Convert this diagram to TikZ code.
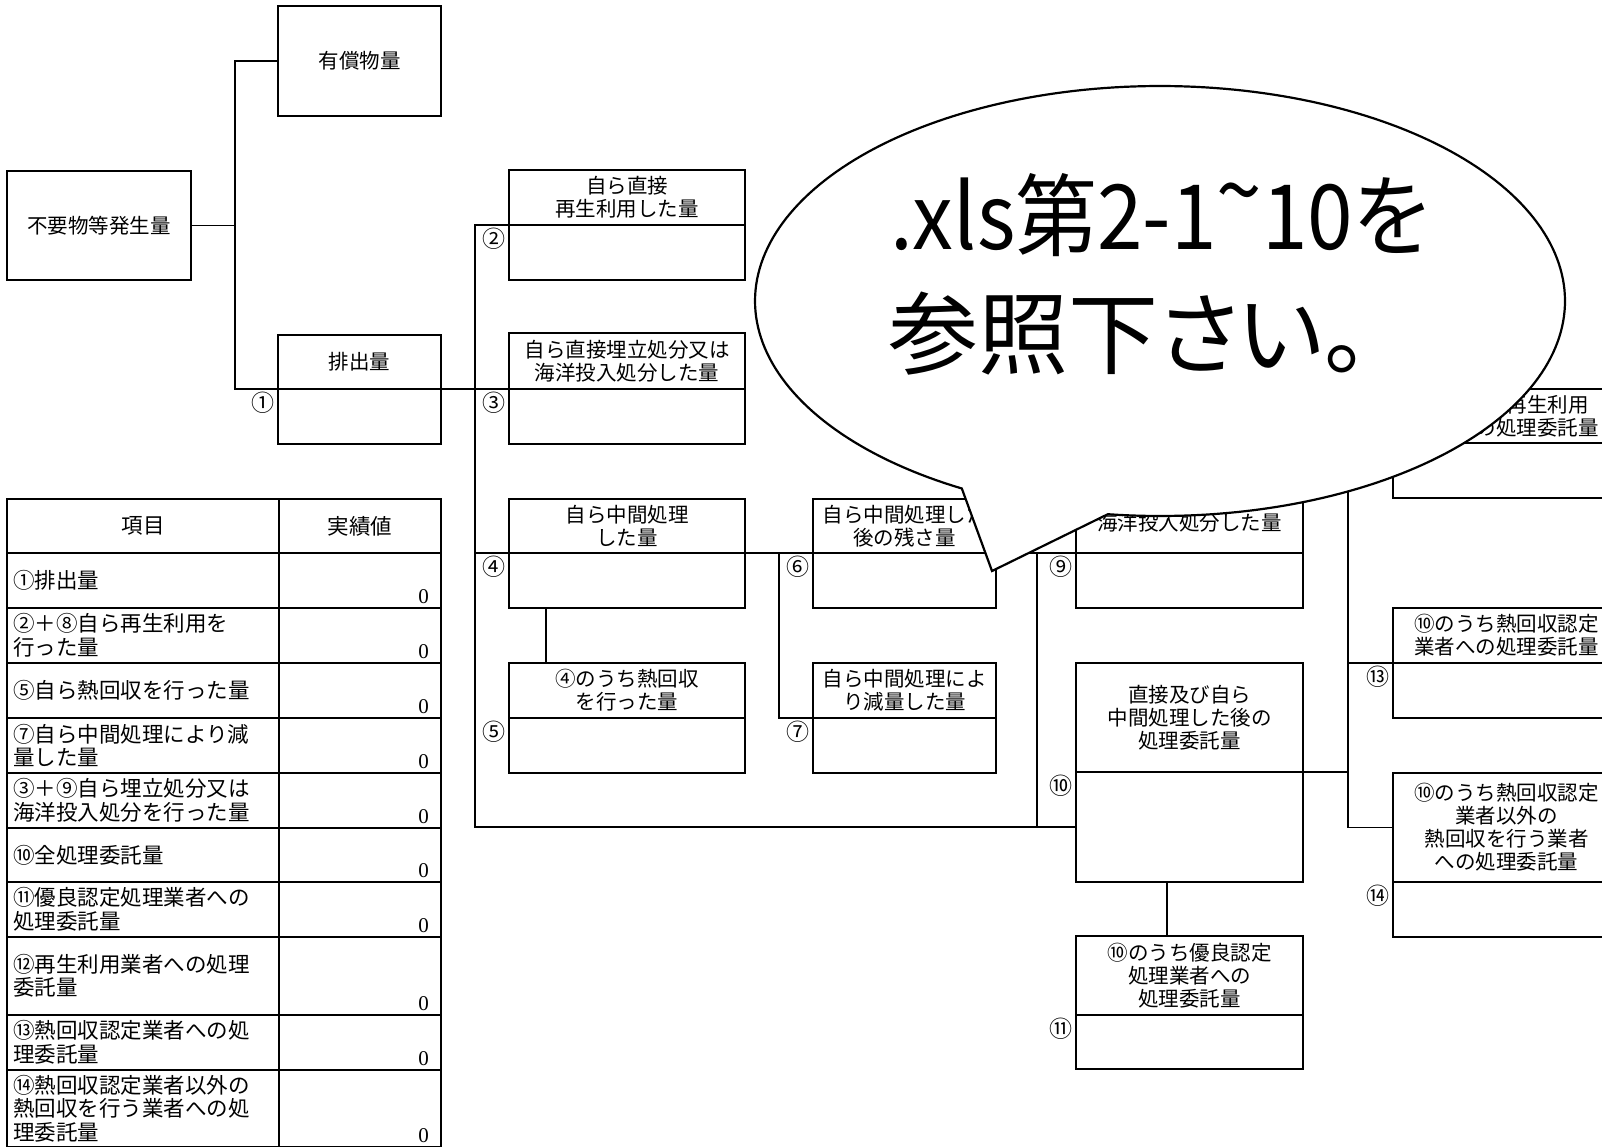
\documentclass[tikz,border=0pt]{standalone}
\usepackage{fontspec}
\setmainfont{Noto Sans CJK JP}
\newfontfamily\numfont{Liberation Serif}
\newfontfamily\bubblefont[RawFeature=+palt]{Noto Sans CJK JP}
\newcommand\flowbox[7]{%
  \node[cell, minimum width=#4pt, minimum height=#5pt] (h#1) at (#2,#3) {#7};
  \node[cell, minimum width=#4pt, minimum height=#6pt] (v#1) at (h#1.south west) {};
}
\newcommand\trow[4]{%
  \node[tleft, minimum height=#3pt] (k#1) at (7,#2) {#4};
  \node[tright, minimum height=#3pt] (r#1) at (279,#2) {};
  \node[zero] (z#1) at ([xshift=-12pt,yshift=4.5pt]r#1.south east) {0};
}
\newcommand\circlbl[2]{%
  \node[lbl] (l#1) at ([xshift=-15pt,yshift=-14pt]v#1.north west) {#2};
}
\tikzset{
  cell/.style={draw, line width=1.4pt, inner sep=0pt, outer sep=0pt, anchor=north west, align=center, font=\fontsize{20.5}{23}\selectfont},
  tleft/.style={draw, line width=1.4pt, inner xsep=6pt, inner ysep=0pt, outer sep=0pt, anchor=north west, text width=260pt, align=left, font=\fontsize{21.5}{23.5}\selectfont},
  tright/.style={draw, line width=1.4pt, inner sep=0pt, outer sep=0pt, anchor=north west, minimum width=162pt},
  thead/.style={draw, line width=1.4pt, inner sep=0pt, outer sep=0pt, anchor=north west, font=\fontsize{21.5}{23.5}\selectfont},
  zero/.style={anchor=base east, inner sep=0pt, font=\numfont\fontsize{21}{21}\selectfont},
  lbl/.style={inner sep=0pt, font=\fontsize{23}{23}\selectfont},
  wire/.style={line width=1.4pt},
  bubble/.style={line width=2.2pt, fill=white, draw=black, line join=miter},
  bigtext/.style={anchor=base west, inner sep=0pt, font=\bubblefont\fontsize{90}{90}\selectfont},
}
\begin{document}
\begin{tikzpicture}[x=1pt,y=-1pt]
\useasboundingbox (0,0) rectangle (1602,1146);
\clip (0,0) rectangle (1602,1146);
\fill[white] (0,0) rectangle (1602,1146);

% --- flow boxes ---
\node[cell, minimum width=163pt, minimum height=110pt] (yu) at (278,6) {有償物量};
\node[cell, minimum width=184pt, minimum height=109pt] (gen) at (7,171) {不要物等発生量};
\flowbox{1}{278}{335}{163}{54}{55}{排出量}
\flowbox{2}{509}{170}{236}{55}{55}{自ら直接\\再生利用した量}
\flowbox{3}{509}{333}{236}{56}{55}{自ら直接埋立処分又は\\海洋投入処分した量}
\flowbox{4}{509}{499}{236}{54}{55}{自ら中間処理\\した量}
\flowbox{5}{509}{663}{236}{55}{55}{④のうち熱回収\\を行った量}
\flowbox{6}{813}{499}{183}{54}{55}{自ら中間処理した\\後の残さ量}
\flowbox{7}{813}{663}{183}{55}{55}{自ら中間処理によ\\り減量した量}
\flowbox{9}{1076}{499}{227}{54}{55}{}
\node[font=\fontsize{20.5}{23}\selectfont, inner sep=0pt] (t9) at (1189.5,523) {海洋投入処分した量};
\flowbox{10}{1076}{663}{227}{109}{110}{直接及び自ら\\中間処理した後の\\処理委託量}
\flowbox{11}{1076}{936}{227}{79}{54}{⑩のうち優良認定\\処理業者への\\処理委託量}
\flowbox{12}{1393}{389}{227}{54}{55}{⑩のうち再生利用\\業者への処理委託量}
\flowbox{13}{1393}{608}{227}{55}{55}{⑩のうち熱回収認定\\業者への処理委託量}
\flowbox{14}{1393}{773}{227}{109}{55}{⑩のうち熱回収認定\\業者以外の\\熱回収を行う業者\\への処理委託量}

% --- connectors ---
\coordinate (ta) at (235,0);
\coordinate (tb) at (475,0);
\coordinate (tc) at (779,0);
\coordinate (td) at (1037,0);
\coordinate (te) at (1348,0);
\draw[wire] (gen.east) -- (gen.east -| ta);
\draw[wire] (yu.west) -- (yu.west -| ta) -- (ta |- v1.north west) -- (v3.north west);
\draw[wire] (v2.north west) -- (v2.north west -| tb) -- (tb |- v10.west) -- (v10.west);
\draw[wire] (tb |- v4.north west) -- (v4.north west);
\draw[wire] ([xshift=37pt]v4.south west) -- ([xshift=37pt]h5.north west);
\draw[wire] (v4.north east) -- (v6.north west);
\draw[wire] (tc |- v6.north west) -- (tc |- v7.north west) -- (v7.north west);
\draw[wire] (v6.north east) -- (v9.north west);
\draw[wire] (td |- v9.north west) -- (td |- v10.west);
\draw[wire] ([xshift=91pt]v10.south west) -- ([xshift=91pt]h11.north west);
\draw[wire] (v10.north east) -- (te |- v10.north east);
\draw[wire] (v12.north west) -- (te |- v12.north west) -- (te |- h14.west) -- (h14.west);
\draw[wire] (te |- v13.north west) -- (v13.north west);

% --- circled labels ---
\circlbl{1}{①}
\circlbl{2}{②}
\circlbl{3}{③}
\circlbl{4}{④}
\circlbl{5}{⑤}
\circlbl{6}{⑥}
\circlbl{7}{⑦}
\circlbl{9}{⑨}
\circlbl{10}{⑩}
\circlbl{11}{⑪}
\circlbl{13}{⑬}
\circlbl{14}{⑭}

% --- table ---
\node[thead, minimum width=272pt, minimum height=54pt] (k0) at (7,499) {項目};
\node[thead, minimum width=162pt, minimum height=54pt] (r0) at (279,499) {実績値};
\trow{1}{553}{55}{①排出量}
\trow{2}{608}{55}{②＋⑧自ら再生利用を\\行った量}
\trow{3}{663}{55}{⑤自ら熱回収を行った量}
\trow{4}{718}{55}{⑦自ら中間処理により減\\量した量}
\trow{5}{773}{55}{③＋⑨自ら埋立処分又は\\海洋投入処分を行った量}
\trow{6}{828}{54}{⑩全処理委託量}
\trow{7}{882}{55}{⑪優良認定処理業者への\\処理委託量}
\trow{8}{937}{78}{⑫再生利用業者への処理\\委託量}
\trow{9}{1015}{55}{⑬熱回収認定業者への処\\理委託量}
\trow{10}{1070}{77}{⑭熱回収認定業者以外の\\熱回収を行う業者への処\\理委託量}

% --- speech bubble ---
\draw[bubble] plot[domain=119.3:457.4, samples=240, variable=\t] ({1160+405*cos(\t)},{301+215*sin(\t)}) -- (992,571) -- cycle;
\node[bigtext] (m1) at (890,249) {\scalebox{0.91}[1]{.xls第2-1\raisebox{0.28em}{\symbol{126}}10を}};
\node[bigtext] (m2) at (888,367) {参照下さい。};
\end{tikzpicture}
\end{document}
